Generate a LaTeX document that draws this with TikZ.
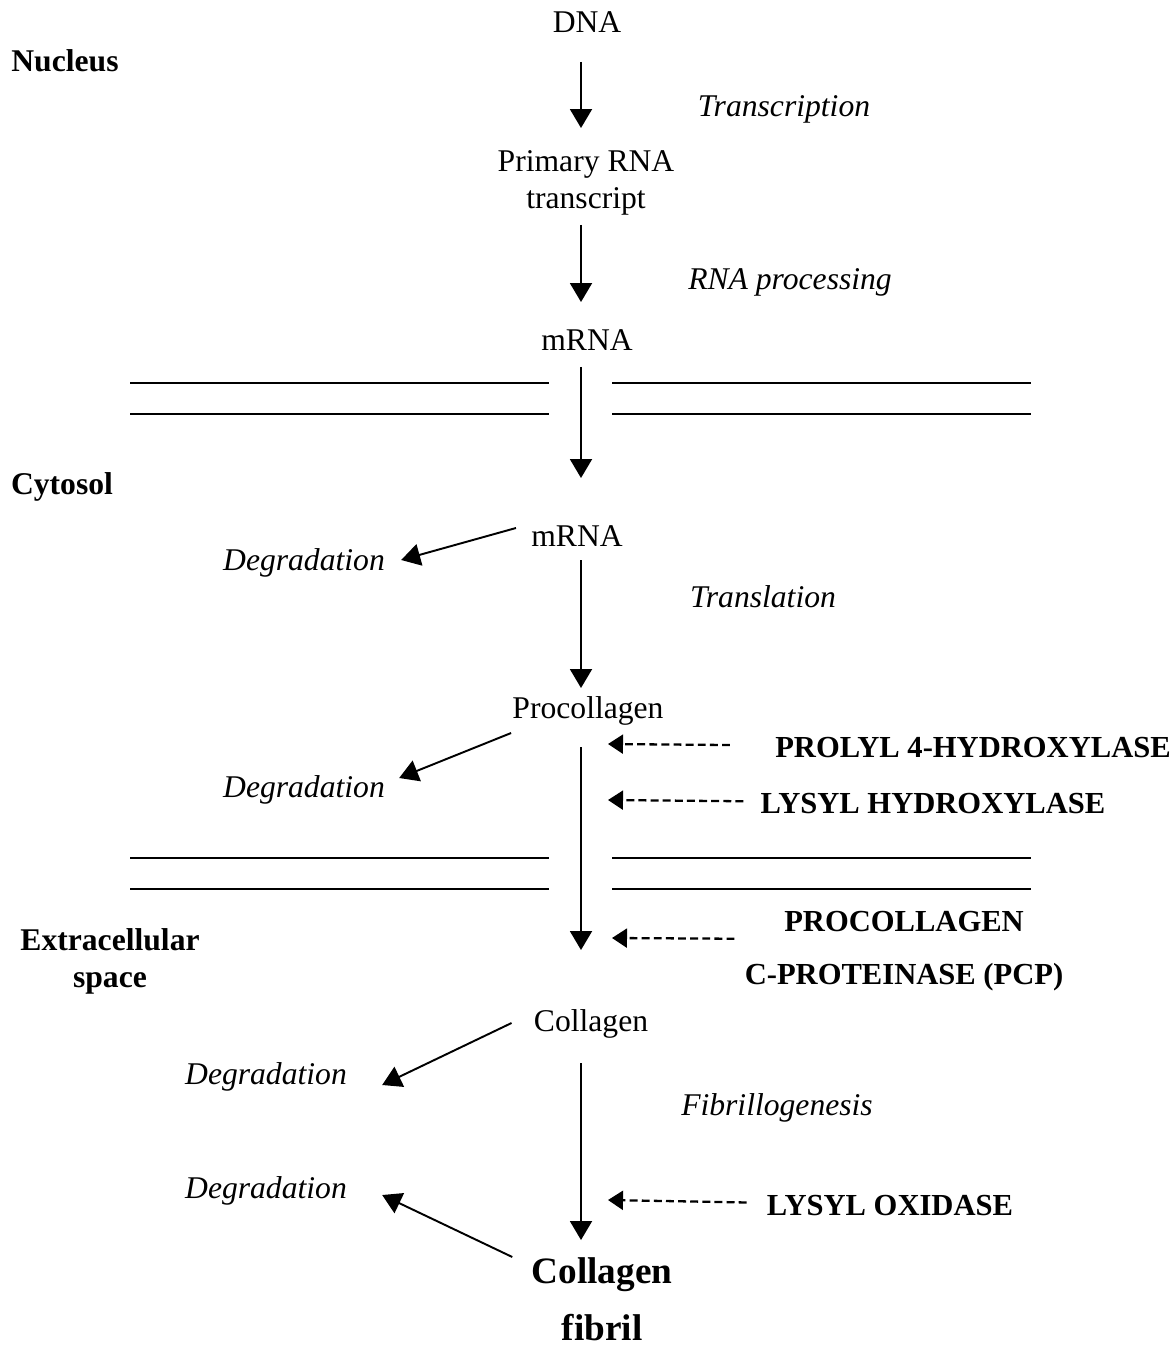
\documentclass[tikz,border=0pt]{standalone}
\usepackage{fontspec}
\setmainfont{Liberation Serif}
\usetikzlibrary{positioning}
\usetikzlibrary{arrows.meta}

\begin{document}
\begin{tikzpicture}
 [ x=0.02cm
 , y=-0.02cm
 , molecule/.style={anchor=base, inner sep=0pt, align=center, font=\fontsize{18}{21.6}\selectfont}
 , process/.style={anchor=base, inner sep=0pt, font=\fontsize{18}{21}\selectfont\itshape}
 , compartment/.style={anchor=base, inner sep=0pt, align=center, font=\fontsize{18}{20.5}\selectfont\bfseries}
 , enzyme/.style={anchor=base, inner sep=0pt, align=center, font=\fontsize{17.4}{30}\selectfont\bfseries}
 , product/.style={anchor=base, inner sep=0pt, align=center, font=\fontsize{21.2}{32}\selectfont\bfseries}
 , flow/.style={line width=1.1pt, -{Triangle[length=0.38cm, width=0.44cm]}}
 , assist/.style={line width=1.3pt, dash pattern=on 4.5pt off 2.4pt, -{Triangle[length=0.3cm, width=0.38cm]}}
 , membrane/.style={line width=1.4pt}
 ]
  \useasboundingbox (0,0) rectangle (1175,1348);

  % nucleus
  \node [compartment] (nucleus) at (65,72) {Nucleus};
  \node [molecule] (dna) at (587,33) {DNA};
  \node [process] (transcription) at (784,117) {Transcription};
  \node [molecule] (primary) at (586,209) {Primary RNA\\transcript};
  \node [process] (processing) at (790,289) {RNA processing};
  \node [molecule] (mrna) at (587,350) {mRNA};

  % cytosol
  \node [compartment] (cytosol) at (62,494) {Cytosol};
  \node [molecule] (mrna2) at (577,546) {mRNA};
  \node [process] (degrade1) at (304,570) {Degradation};
  \node [process] (translation) at (763,607) {Translation};
  \node [molecule] (procollagen) at (588,718) {Procollagen};
  \node [process] (degrade2) at (304,797) {Degradation};
  \node [enzyme] (prolyl) at (973,757) {PROLYL 4-HYDROXYLASE};
  \node [enzyme] (lysyl) at (933,813) {LYSYL HYDROXYLASE};

  % extracellular space (base = last line)
  \node [compartment] (space) at (110,987) {Extracellular\\space};
  \node [enzyme] (pcp) at (904,984) {PROCOLLAGEN\\C-PROTEINASE (PCP)};
  \node [molecule] (collagen) at (591,1031) {Collagen};
  \node [process] (degrade3) at (266,1084) {Degradation};
  \node [process] (fibrillo) at (777,1115) {Fibrillogenesis};
  \node [process] (degrade4) at (266,1198) {Degradation};
  \node [enzyme] (oxidase) at (890,1215) {LYSYL OXIDASE};
  \node [product] (fibril) at (602,1340) {Collagen\\fibril};

  \coordinate (axis) at (581,0);
  \coordinate (hook1) at (608,744);
  \coordinate (hook2) at (608,800);
  \coordinate (hook3) at (612,938);
  \coordinate (hook4) at (608,1200);

  % membranes
  \foreach \y in {383,414,858,889}
  {
    \draw [membrane] (130,\y) -- (549,\y);
    \draw [membrane] (612,\y) -- (1031,\y);
  }

  % main pathway
  \draw [flow, shorten <=0.58cm, shorten >=1.62cm] (dna.base -| axis) -- (primary.base -| axis);
  \draw [flow, shorten <=0.32cm, shorten >=0.96cm] (primary.base -| axis) -- (mrna.base -| axis);
  \draw [flow, shorten <=0.34cm, shorten >=1.36cm] (mrna.base -| axis) -- (mrna2.base -| axis);
  \draw [flow, shorten <=0.28cm, shorten >=0.6cm] (mrna2.base -| axis) -- (procollagen.base -| axis);
  \draw [flow, shorten <=0.58cm, shorten >=1.62cm] (procollagen.base -| axis) -- (collagen.base -| axis);
  \draw [flow, shorten <=0.64cm, shorten >=2cm] (collagen.base -| axis) -- (fibril.base -| axis);

  % degradation
  \draw [flow] ([shift={(-15,-18)}]mrna2.base west) -- ([shift={(16,-10)}]degrade1.base east);
  \draw [flow] ([shift={(-1,15)}]procollagen.base west) -- ([shift={(14,-19)}]degrade2.base east);
  \draw [flow] ([shift={(-22,-8)}]collagen.base west) -- ([shift={(35,1)}]degrade3.base east);
  \draw [flow] ([shift={(-19,-83)}]fibril.base west) -- ([shift={(35,-3)}]degrade4.base east);

  % enzymes
  \draw [assist, shorten <=0.9cm] (prolyl) -- (hook1);
  \draw [assist, shorten <=0.34cm] (lysyl) -- (hook2);
  \draw [assist, shorten <=0.2cm] ([yshift=0.24cm]pcp.west) -- (hook3);
  \draw [assist, shorten <=0.4cm] (oxidase) -- (hook4);
\end{tikzpicture}
\end{document}
